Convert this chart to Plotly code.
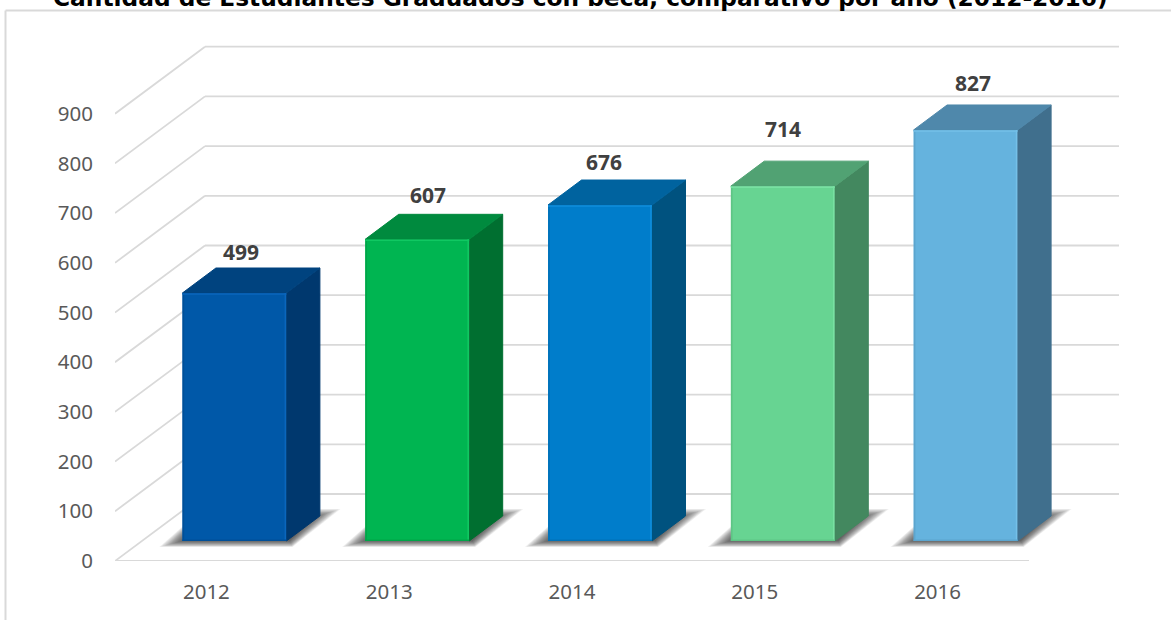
import plotly.graph_objects as go

# ---- data ----
years = [2012, 2013, 2014, 2015, 2016]
values = [499, 607, 676, 714, 827]
y_ticks = [0, 100, 200, 300, 400, 500, 600, 700, 800, 900]
title_text = "Cantidad de Estudiantes Graduados con beca, comparativo por año (2012-2016)"

# ---- colours ----
front_colors = ["#0058A8", "#00B551", "#007DCB", "#67D492", "#65B3DE"]
top_colors = ["#00437F", "#008A3E", "#00639F", "#51A273", "#4F88AB"]
side_colors = ["#00386E", "#006F30", "#00527F", "#43885F", "#406F8D"]
light_edges = ["#0A66BC", "#10C862", "#0F8EDC", "#78E0A2", "#74C0E8"]
dark_edges = ["#004F98", "#00A549", "#0072B8", "#5EC585", "#5CA5CE"]
GRID = "#D9D9D9"
TICK = "#595959"

# ---- layout geometry (pixels of the page) ----
W, H = 1171, 620
ML, MR, MB = 115, 52, 59
PX_PER_CAT = 182.8
PX_PER_UNIT = 0.497
PLOT_W = W - ML - MR
x0 = years[0] - 0.5
x_range = [x0, x0 + PLOT_W / PX_PER_CAT]
y_range = [0, (H - MB) / PX_PER_UNIT]

def dx(px):
    return px / PX_PER_CAT

def dy(px):
    return px / PX_PER_UNIT

WALL_X, WALL_Y = dx(90), dy(67)
BAR_LEFT = dx(-24)
BAR_W = dx(104)
FLOOR = dy(20)
DEPTH_X, DEPTH_Y = dx(33.5), dy(25)
x_end_front = years[-1] + 0.5

shapes = []
# frame
for (a, b, c, d) in [(5.5, 10.5, 5.5, 620), (5.5, 10.5, 1171, 10.5)]:
    shapes.append(dict(type="line", xref="paper", yref="paper",
                       x0=(a - ML) / PLOT_W, x1=(c - ML) / PLOT_W,
                       y0=(H - MB - b) / (H - MB), y1=(H - MB - d) / (H - MB),
                       line=dict(color=GRID, width=2), layer="below"))
# walls and floor
for v in y_ticks:
    shapes.append(dict(type="line", x0=x0, y0=v, x1=x0 + WALL_X, y1=v + WALL_Y,
                       line=dict(color=GRID, width=1.8), layer="below"))
    shapes.append(dict(type="line", x0=x0 + WALL_X, y0=v + WALL_Y, x1=x_range[1], y1=v + WALL_Y,
                       line=dict(color=GRID, width=1.8), layer="below"))
shapes.append(dict(type="line", x0=x0, y0=0, x1=x_end_front, y1=0,
                   line=dict(color=GRID, width=1.8), layer="below"))

# soft floor shadows
LAYERS = 15
for yr in years:
    fx = yr + BAR_LEFT
    for k in range(LAYERS):
        i = k * 1.0
        pts = [(-23 + i * 1.7, 6 - i * 0.45), (110 - i * 0.2, 6 - i * 0.45),
               (158 - i * 1.9, -32 + i * 0.6), (20, -32 + i * 0.6)]
        path = "M " + " L ".join(f"{fx + dx(a)},{FLOOR - dy(b)}" for a, b in pts) + " Z"
        shapes.append(dict(type="path", path=path, fillcolor="rgba(30,30,30,0.07)",
                           line=dict(width=0), layer="below"))

fig = go.Figure()

# front faces
fig.add_trace(go.Bar(x=years, y=values, base=FLOOR, width=BAR_W, offset=BAR_LEFT,
                     marker=dict(color=front_colors, line=dict(width=0)),
                     hoverinfo="skip", showlegend=False))

def poly(xs, ys, color):
    fig.add_trace(go.Scatter(x=xs, y=ys, mode="lines", fill="toself", fillcolor=color,
                             line=dict(color=color, width=1), hoverinfo="skip",
                             showlegend=False))

def edge(xs, ys, color, width=1.6):
    fig.add_trace(go.Scatter(x=xs, y=ys, mode="lines", line=dict(color=color, width=width),
                             hoverinfo="skip", showlegend=False))

for yr, v, tc, sc, le, de in zip(years, values, top_colors, side_colors, light_edges, dark_edges):
    l = yr + BAR_LEFT
    r = l + BAR_W
    t = v + FLOOR
    # right side
    poly([r, r + DEPTH_X, r + DEPTH_X, r, r], [FLOOR, FLOOR + DEPTH_Y, t + DEPTH_Y, t, FLOOR], sc)
    # top
    poly([l, l + DEPTH_X, r + DEPTH_X, r, l], [t, t + DEPTH_Y, t + DEPTH_Y, t, t], tc)
    # bevels on the front face
    edge([r - dx(1), r - dx(1)], [FLOOR, t], le)
    edge([l + dx(1), l + dx(1)], [FLOOR, t], de)
    edge([l, r], [t - dy(1), t - dy(1)], le)
    edge([l, r], [FLOOR + dy(0.8), FLOOR + dy(0.8)], de)

# value labels (hand-placed in the original)
label_xshift = [34.7, 38.9, 32.1, 28.3, 35.5]
label_yshift = [41, 44.8, 43, 57.6, 47]
annotations = [dict(x=yr, y=v + FLOOR, text=str(v), showarrow=False, xshift=xs, yshift=ys,
                    font=dict(family="Noto Sans", size=21, color="#404040", weight="bold"))
               for yr, v, xs, ys in zip(years, values, label_xshift, label_yshift)]
annotations.append(dict(xref="paper", yref="paper", x=(580 - ML) / PLOT_W, y=1, text=f"<b>{title_text}</b>",
                        showarrow=False, yanchor="middle", xanchor="center", yshift=3,
                        font=dict(family="DejaVu Sans", size=23.3, color="#000000")))

fig.update_layout(
    width=W, height=H,
    margin=dict(l=ML, r=MR, t=0, b=MB, pad=0),
    paper_bgcolor="white", plot_bgcolor="rgba(0,0,0,0)",
    showlegend=False, shapes=shapes, annotations=annotations,
    xaxis=dict(range=x_range, tickvals=years, ticktext=[str(y) for y in years],
               showgrid=False, zeroline=False, showline=False, ticks="",
               ticklabelstandoff=16, tickangle=0,
               tickfont=dict(family="Noto Sans", size=20.5, color=TICK)),
    yaxis=dict(range=y_range, tickvals=y_ticks, showgrid=False, zeroline=False,
               showline=False, ticks="", ticklabelstandoff=21,
               tickfont=dict(family="Noto Sans", size=20.5, color=TICK)),
)

fig.write_html("out.html", config=dict(displayModeBar=False),
               post_script="document.body.style.margin='0';document.body.style.overflow='hidden';")
